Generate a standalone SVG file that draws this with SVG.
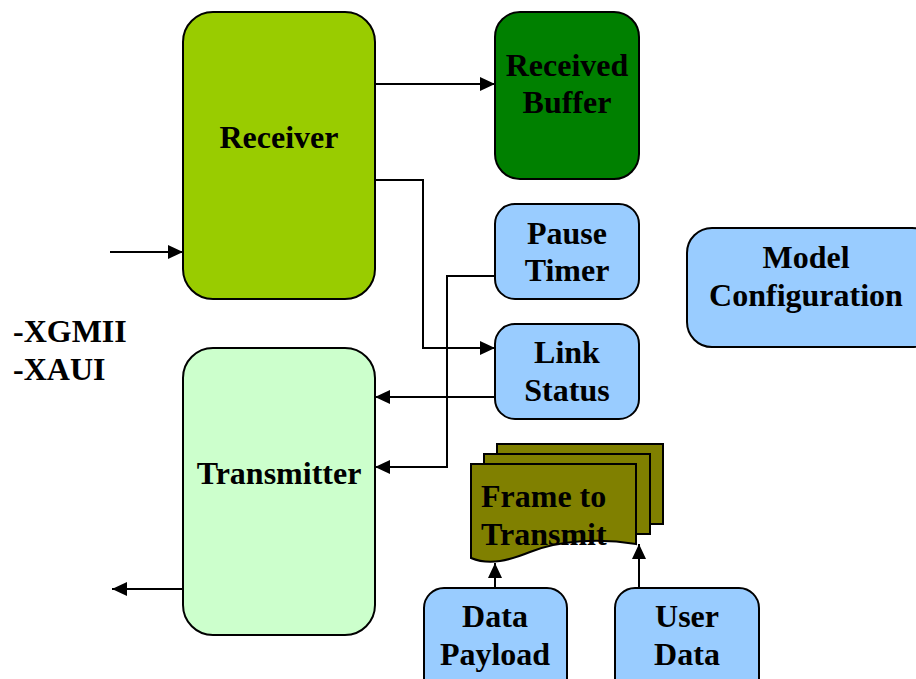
<svg xmlns="http://www.w3.org/2000/svg" width="916" height="679" viewBox="0 0 916 679">
  <style>
    .box { stroke: #000; stroke-width: 2; }
    .lbl { font-family: "Liberation Serif", "Times New Roman", serif; font-weight: bold; font-size: 32px; fill: #000; text-anchor: middle; }
    .lft { text-anchor: start; }
    .wire { fill: none; stroke: #000; stroke-width: 2; }
    .blue { fill: #99CCFF; }
  </style>
  <defs>
    <marker id="arr" viewBox="0 0 15 14" refX="15" refY="7" markerWidth="15" markerHeight="14" markerUnits="userSpaceOnUse" orient="auto">
      <path d="M0,0 L15,7 L0,14 Z" fill="#000"/>
    </marker>
  </defs>
  <rect width="916" height="679" fill="#fff"/>

  <g id="connectors">
    <path class="wire" marker-end="url(#arr)" d="M110,252 H183"/>
    <path class="wire" marker-end="url(#arr)" d="M183,589 H112"/>
    <path class="wire" marker-end="url(#arr)" d="M375,84 H495"/>
    <path class="wire" marker-end="url(#arr)" d="M375,180 H423 V348 H495"/>
    <path class="wire" marker-end="url(#arr)" d="M495,276 H447 V467 H375"/>
    <path class="wire" marker-end="url(#arr)" d="M495,397 H375"/>
    <path class="wire" marker-end="url(#arr)" d="M495,588 V563"/>
    <path class="wire" marker-end="url(#arr)" d="M639,588 V544"/>
  </g>

  <g id="receiver">
    <rect class="box" x="183" y="12" width="192" height="287" rx="30" fill="#99CC00"/>
    <text class="lbl" x="279" y="148">Receiver</text>
  </g>

  <g id="received-buffer">
    <rect class="box" x="495" y="12" width="144" height="167" rx="25" fill="#008000"/>
    <text class="lbl" x="567" y="76">Received</text>
    <text class="lbl" x="567" y="113">Buffer</text>
  </g>

  <g id="pause-timer">
    <rect class="box blue" x="495" y="204" width="144" height="95" rx="20"/>
    <text class="lbl" x="567" y="244">Pause</text>
    <text class="lbl" x="567" y="281">Timer</text>
  </g>

  <g id="link-status">
    <rect class="box blue" x="495" y="324" width="144" height="95" rx="20"/>
    <text class="lbl" x="567" y="363">Link</text>
    <text class="lbl" x="567" y="401">Status</text>
  </g>

  <g id="model-configuration">
    <rect class="box blue" x="687" y="228" width="250" height="119" rx="25"/>
    <text class="lbl" x="806" y="268">Model</text>
    <text class="lbl" x="806" y="306">Configuration</text>
  </g>

  <g id="transmitter">
    <rect class="box" x="183" y="348" width="192" height="287" rx="30" fill="#CCFFCC"/>
    <text class="lbl" x="279" y="484">Transmitter</text>
  </g>

  <g id="interfaces">
    <text class="lbl lft" x="13" y="342">-XGMII</text>
    <text class="lbl lft" x="13" y="380">-XAUI</text>
  </g>

  <g id="frame-to-transmit">
    <rect class="box" x="497" y="444" width="166" height="80" fill="#808000"/>
    <rect class="box" x="484" y="454" width="166" height="80" fill="#808000"/>
    <path class="box" fill="#808000" d="M471,464 H636 V544 C600,538 560,540 530,552 C510,560 490,566 471,558 Z"/>
    <text class="lbl lft" x="481" y="507">Frame to</text>
    <text class="lbl lft" x="481" y="545">Transmit</text>
  </g>

  <g id="data-payload">
    <rect class="box blue" x="424" y="588" width="143" height="110" rx="20"/>
    <text class="lbl" x="495" y="627">Data</text>
    <text class="lbl" x="495" y="665">Payload</text>
  </g>

  <g id="user-data">
    <rect class="box blue" x="615" y="588" width="144" height="110" rx="20"/>
    <text class="lbl" x="687" y="627">User</text>
    <text class="lbl" x="687" y="665">Data</text>
  </g>
</svg>
